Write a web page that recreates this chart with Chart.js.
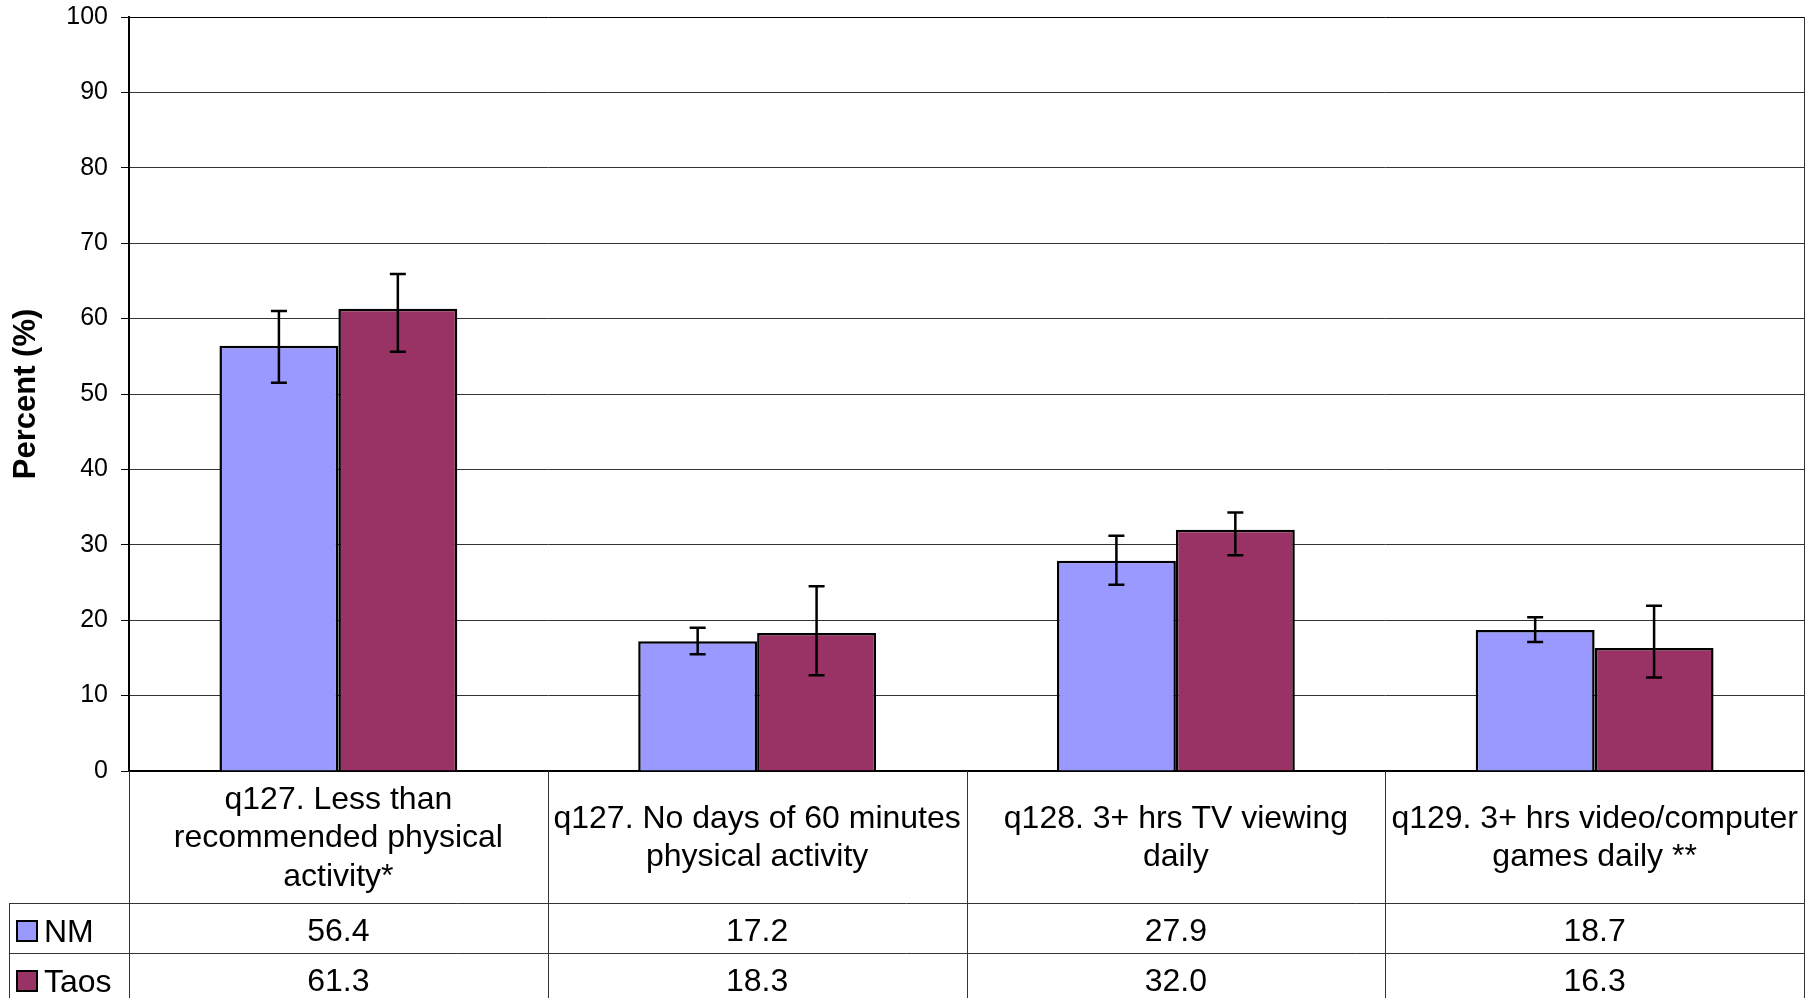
<!DOCTYPE html>
<html>
<head>
<meta charset="utf-8">
<script src="https://cdn.jsdelivr.net/npm/chart.js@4"></script>
<style>
  html, body { margin: 0; padding: 0; background: #fff; }
  canvas { display: block; }
</style>
</head>
<body>
<canvas id="chart" width="1814" height="998"></canvas>
<script>
// categories (multi-line labels as shown under the bars)
const categories = [
  ["q127. Less than", "recommended physical", "activity*"],
  ["q127. No days of 60 minutes", "physical activity"],
  ["q128. 3+ hrs TV viewing", "daily"],
  ["q129. 3+ hrs video/computer", "games daily **"],
];
const seriesNames = ["NM", "Taos"];
const nmValues = [56.4, 17.2, 27.9, 18.7];
const taosValues = [61.3, 18.3, 32.0, 16.3];
// confidence intervals
const nmLow = [51.5, 15.5, 24.7, 17.1];
const nmHigh = [61.0, 19.0, 31.2, 20.4];
const taosLow = [55.6, 12.7, 28.6, 12.4];
const taosHigh = [65.9, 24.5, 34.3, 21.9];
const yTicks = [0, 10, 20, 30, 40, 50, 60, 70, 80, 90, 100];

const nmColor = "#9999ff";
const taosColor = "#993366";
const FONT = "Arial, 'Liberation Sans', sans-serif";

Chart.defaults.font.family = FONT;
Chart.defaults.color = "#000";

const errorBars = {
  id: "errorBars",
  afterDatasetsDraw(chart) {
    const ctx = chart.ctx;
    const y = chart.scales.y;
    ctx.save();
    ctx.strokeStyle = "#000";
    ctx.lineWidth = 2.5;
    chart.data.datasets.forEach((ds, di) => {
      const meta = chart.getDatasetMeta(di);
      meta.data.forEach((bar, i) => {
        const top = y.getPixelForValue(ds.high[i]);
        const bot = y.getPixelForValue(ds.low[i]);
        const x = bar.x;
        ctx.beginPath();
        ctx.moveTo(x, top); ctx.lineTo(x, bot);
        ctx.moveTo(x - 8, top); ctx.lineTo(x + 8, top);
        ctx.moveTo(x - 8, bot); ctx.lineTo(x + 8, bot);
        ctx.stroke();
      });
    });
    ctx.restore();
  }
};

const dataTable = {
  id: "dataTable",
  afterDraw(chart) {
    const ctx = chart.ctx;
    const xs = chart.scales.x;
    const area = chart.chartArea;
    const tableTop = xs.bottom;
    const rowH = 50;
    const left = 9;
    const bottom = chart.height;
    const n = categories.length;
    const colW = (area.right - area.left) / n;

    ctx.save();
    ctx.strokeStyle = "#333";
    ctx.lineWidth = 1;
    ctx.beginPath();
    // vertical lines through label row and data rows
    for (let k = 0; k <= n; k++) {
      const x = Math.round(area.left + k * colW) + 0.5;
      ctx.moveTo(x, area.bottom);
      ctx.lineTo(x, bottom);
    }
    // horizontal row lines
    for (let r = 0; r < 2; r++) {
      const yy = Math.round(tableTop + r * rowH) + 0.5;
      ctx.moveTo(left, yy);
      ctx.lineTo(area.right, yy);
    }
    ctx.moveTo(left + 0.5, tableTop);
    ctx.lineTo(left + 0.5, bottom);
    // right border of plot area
    ctx.moveTo(Math.round(area.right) + 0.5, area.top);
    ctx.lineTo(Math.round(area.right) + 0.5, area.bottom);
    ctx.stroke();

    ctx.font = "32px " + FONT;
    ctx.fillStyle = "#000";
    ctx.textBaseline = "middle";
    chart.data.datasets.forEach((ds, r) => {
      const cy = tableTop + r * rowH + rowH / 2;
      // legend key
      ctx.fillStyle = ds.backgroundColor;
      ctx.fillRect(17, cy - 7, 20, 20);
      ctx.strokeStyle = "#000";
      ctx.lineWidth = 2;
      ctx.strokeRect(17, cy - 7, 20, 20);
      ctx.fillStyle = "#000";
      ctx.textAlign = "left";
      ctx.fillText(ds.label, 44, cy + 5);
      ctx.textAlign = "center";
      ds.data.forEach((v, i) => {
        ctx.fillText(v.toFixed(1), xs.getPixelForValue(i), cy + 4);
      });
    });
    ctx.restore();
  }
};

new Chart(document.getElementById("chart"), {
  type: "bar",
  data: {
    labels: categories,
    datasets: [
      { label: seriesNames[0], data: nmValues, low: nmLow, high: nmHigh,
        backgroundColor: nmColor, borderColor: "#000", borderWidth: 2.5 },
      { label: seriesNames[1], data: taosValues, low: taosLow, high: taosHigh,
        backgroundColor: taosColor, borderColor: "#000", borderWidth: 2.5 },
    ],
  },
  options: {
    responsive: false,
    animation: false,
    layout: { padding: { left: 0, right: 10, top: 17, bottom: 95 } },
    datasets: { bar: { barPercentage: 1, categoryPercentage: 0.568 } },
    plugins: { legend: { display: false }, tooltip: { enabled: false } },
    scales: {
      x: {
        grid: { display: false },
        border: { color: "#000", width: 2 },
        ticks: {
          font: { size: 32, lineHeight: 1.2 },
          color: "#000",
          maxRotation: 0,
          autoSkip: false,
          crossAlign: "center",
          padding: 21,
        },
        afterFit(scale) {
          scale.height = 132;
          scale.paddingLeft = 0;
          scale.paddingRight = 0;
        },
      },
      y: {
        min: 0,
        max: 100,
        afterBuildTicks(scale) { scale.ticks = yTicks.map(v => ({ value: v })); },
        grid: {
          color: ctx => (ctx.tick && ctx.tick.value === 100 ? "#000" : "#333"),
          tickColor: "#000",
          tickLength: 8,
        },
        border: { color: "#000", width: 2 },
        ticks: { font: { size: 25 }, color: "#000", padding: 13 },
        title: {
          display: true,
          text: "Percent (%)",
          font: { size: 31, weight: "bold" },
          color: "#000",
          padding: { top: 8, bottom: 0 },
        },
        afterFit(scale) {
          scale.width = 129;
          scale.paddingTop = 0;
          scale.paddingBottom = 0;
        },
      },
    },
  },
  plugins: [errorBars, dataTable],
});
</script>
</body>
</html>
